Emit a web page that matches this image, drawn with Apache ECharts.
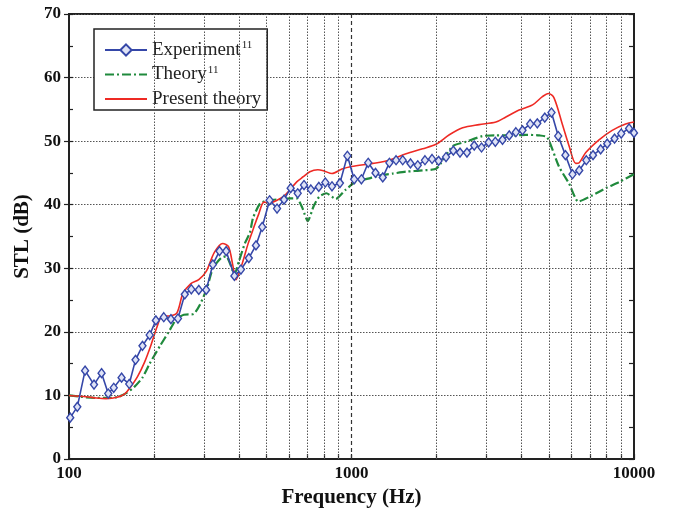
<!DOCTYPE html>
<html><head><meta charset="utf-8">
<script src="https://cdn.jsdelivr.net/npm/echarts@6/dist/echarts.min.js"></script>
<style>html,body{margin:0;padding:0;background:#fff}#c{width:673px;height:513px}</style>
</head><body><div id="c"></div>
<script>
// ---- data ----
const expFreq = [101, 107, 114, 122.6, 130.4, 137.7, 144, 153.5, 163.4, 172, 182, 193, 203, 216.5, 229.5, 243, 257, 271, 288, 306, 323, 341, 360, 385, 406, 433, 459, 483, 513, 545, 577, 609, 645, 679, 718, 766, 808, 853, 910, 967, 1022, 1084, 1146, 1216, 1290, 1362, 1438, 1518, 1617, 1716, 1820, 1928, 2034, 2161, 2293, 2421, 2563, 2719, 2886, 3058, 3229, 3424, 3617, 3818, 4030, 4290, 4547, 4832, 5104, 5392, 5718, 6058, 6399, 6780, 7160, 7618, 8039, 8533, 9011, 9606, 10000];
const expSTL = [6.5, 8.2, 13.9, 11.7, 13.5, 10.3, 11.2, 12.8, 11.8, 15.6, 17.8, 19.5, 21.8, 22.3, 22.0, 22.1, 25.9, 26.7, 26.6, 26.6, 30.6, 32.7, 32.7, 28.8, 29.8, 31.6, 33.6, 36.5, 40.7, 39.4, 40.8, 42.6, 41.8, 43.1, 42.4, 42.8, 43.5, 42.9, 43.4, 47.7, 44.0, 44.0, 46.6, 45.0, 44.3, 46.6, 47.0, 47.0, 46.5, 46.2, 47.0, 47.2, 46.9, 47.5, 48.5, 48.2, 48.2, 49.3, 49.0, 49.8, 49.9, 50.2, 50.9, 51.4, 51.7, 52.7, 52.8, 53.7, 54.5, 50.8, 47.8, 44.8, 45.4, 47.0, 47.8, 48.7, 49.6, 50.4, 51.2, 52.0, 51.3];

const theoryFreq = [100, 115, 125, 140, 150, 160, 170, 182, 193, 210, 224, 240, 255, 276, 291, 308, 323, 345, 360, 375, 385, 400, 420, 437, 448, 475, 505, 545, 604, 640, 670, 700, 735, 770, 815, 880, 950, 1035, 1145, 1256, 1400, 1560, 1786, 2000, 2280, 2540, 2910, 3245, 3715, 4140, 4620, 4930, 5425, 5895, 6350, 7140, 7940, 8880, 10000];
const theorySTL = [10.0, 9.7, 9.6, 9.6, 9.8, 10.4, 11.3, 12.8, 15.0, 17.8, 19.8, 22.0, 22.7, 22.8, 24.3, 26.9, 30.0, 31.6, 31.9, 30.3, 29.0, 31.2, 34.0, 35.6, 37.9, 40.2, 40.7, 40.8, 41.0, 41.0, 39.5, 37.4, 39.8, 41.3, 41.8, 40.9, 42.3, 43.6, 44.1, 44.6, 44.9, 45.2, 45.4, 45.7, 49.2, 49.9, 50.8, 50.9, 50.9, 51.0, 50.9, 50.6, 46.0, 43.3, 40.5, 41.5, 42.6, 43.6, 44.8];

const presentFreq = [100, 115, 125, 135, 148, 158, 165, 175, 185, 195, 205, 214, 227, 241, 253, 270, 288, 306, 327, 350, 367, 380, 390, 412, 430, 450, 470, 490, 513, 545, 575, 604, 640, 675, 712, 760, 800, 853, 925, 1000, 1190, 1362, 1560, 1786, 1990, 2220, 2475, 2830, 3245, 3520, 3920, 4375, 4740, 4980, 5210, 5590, 5895, 6220, 6400, 6750, 7520, 8370, 9340, 10000];
const presentSTL = [10.0, 9.8, 9.6, 9.5, 9.7, 10.3, 11.3, 13.0, 15.2, 17.9, 20.8, 22.5, 22.5, 23.0, 26.0, 27.6, 28.2, 29.5, 32.5, 33.9, 33.4, 30.5, 28.2, 31.0, 33.8, 36.3, 38.6, 40.4, 40.3, 40.7, 41.3, 42.3, 43.6, 44.4, 45.2, 45.5, 45.3, 44.9, 45.6, 46.0, 46.5, 47.0, 48.0, 48.8, 49.5, 51.0, 52.1, 52.6, 53.0, 53.8, 54.9, 55.7, 57.0, 57.5, 56.8, 52.5, 49.2, 46.5, 46.6, 48.2, 50.2, 51.7, 52.7, 53.0];

const xLabelTicks = [100, 1000, 10000];
const xAllTicks = [100, 200, 300, 400, 500, 600, 700, 800, 900, 1000, 2000, 3000, 4000, 5000, 6000, 7000, 8000, 9000, 10000];
const xGridLines = [200, 300, 400, 500, 600, 700, 800, 900, 2000, 3000, 4000, 5000, 6000, 7000, 8000, 9000];
const xDashedLine = [1000];

const seriesNames = ['Experiment', 'Theory', 'Present theory'];
const legendLabels = {
  'Experiment': '{t|Experiment}{s|11}',
  'Theory': '{t|Theory}{s|11}',
  'Present theory': '{t|Present theory}'
};

function pairs(f, v) { return f.map((x, i) => [x, v[i]]); }

const FONT = '"Liberation Serif", "Times New Roman", serif';
const chart = echarts.init(document.getElementById('c'), null, {renderer: 'canvas'});

const option = {
  animation: false,
  backgroundColor: '#fff',
  grid: {left: 69, right: 39, top: 14, bottom: 54, show: true, borderColor: '#222', borderWidth: 2, backgroundColor: 'transparent'},
  legend: {
    data: [
      {name: 'Experiment'},
      {name: 'Theory', itemStyle: {opacity: 0}},
      {name: 'Present theory', itemStyle: {opacity: 0}}
    ],
    orient: 'vertical',
    left: 94, top: 29,
    padding: [11, 6, 1, 10],
    itemGap: 4.5,
    itemWidth: 42, itemHeight: 14,
    backgroundColor: '#fff',
    borderColor: '#222', borderWidth: 1.5,
    selectedMode: false,
    formatter: n => legendLabels[n],
    textStyle: {
      fontFamily: FONT, fontSize: 19, color: '#222', lineHeight: 20,
      rich: {
        t: {fontFamily: FONT, fontSize: 19, color: '#222', lineHeight: 20},
        s: {fontFamily: FONT, fontSize: 11, color: '#222', verticalAlign: 'top', lineHeight: 20, padding: [0, 0, 9, 1]}
      }
    }
  },
  xAxis: [{
    type: 'log', logBase: 10, min: 100, max: 10000,
    name: 'Frequency (Hz)', nameLocation: 'middle', nameGap: 25,
    nameTextStyle: {fontFamily: FONT, fontSize: 21, fontWeight: 'bold', color: '#111'},
    axisLine: {show: true, lineStyle: {color: '#222', width: 2}},
    axisTick: {show: true, inside: true, length: 5, customValues: xAllTicks, lineStyle: {color: '#222', width: 1.2}},
    axisLabel: {customValues: xLabelTicks, margin: 6, fontFamily: FONT, fontSize: 17, fontWeight: 'bold', color: '#111', formatter: v => String(Math.round(v))},
    splitLine: {show: false},
    minorTick: {show: false}
  }],
  yAxis: [{
    type: 'value', min: 0, max: 70, interval: 10, position: 'left',
    name: 'STL (dB)', nameLocation: 'middle', nameGap: 36, nameRotate: 90,
    nameTextStyle: {fontFamily: FONT, fontSize: 21, fontWeight: 'bold', color: '#111'},
    axisLine: {show: true, lineStyle: {color: '#222', width: 2}},
    axisTick: {show: true, inside: false, length: 5, lineStyle: {color: '#222', width: 1.2}},
    axisLabel: {margin: 8, fontFamily: FONT, fontSize: 17, fontWeight: 'bold', color: '#111'},
    splitLine: {show: true, lineStyle: {color: '#555', width: 1, type: [1.5, 1.5]}}
  }, {
    type: 'value', min: 0, max: 70, interval: 5, position: 'left',
    axisLine: {show: false},
    axisTick: {show: true, inside: true, length: 4, lineStyle: {color: '#222', width: 1.2}},
    axisLabel: {show: false}, splitLine: {show: false}
  }, {
    type: 'value', min: 0, max: 70, interval: 5, position: 'right',
    axisLine: {show: true, lineStyle: {color: '#222', width: 2}},
    axisTick: {show: true, inside: true, length: 5, lineStyle: {color: '#222', width: 1.2}},
    axisLabel: {show: false}, splitLine: {show: false}
  }],
  series: [{
    name: 'Experiment', type: 'line', z: 5,
    data: pairs(expFreq, expSTL),
    symbol: 'diamond', symbolSize: [7, 9], showAllSymbol: true,
    lineStyle: {color: '#3547a8', width: 1.6},
    itemStyle: {color: '#dfe3f6', borderColor: '#3547a8', borderWidth: 1.4},
    emphasis: {disabled: true},
    markLine: {
      silent: true, symbol: 'none', label: {show: false}, animation: false,
      lineStyle: {color: '#555', width: 1, type: [1.5, 1.5]},
      data: xGridLines.map(v => ({xAxis: v})).concat(xDashedLine.map(v => ({xAxis: v, lineStyle: {color: '#333', width: 1.2, type: [4, 3]}})))
    }
  }, {
    name: 'Theory', type: 'line', z: 3,
    data: pairs(theoryFreq, theorySTL),
    symbol: 'none', smooth: 0.2,
    lineStyle: {color: '#1f8a3c', width: 2.2, type: [9, 3, 2, 3]},
    itemStyle: {color: '#1f8a3c'},
    emphasis: {disabled: true}
  }, {
    name: 'Present theory', type: 'line', z: 4,
    data: pairs(presentFreq, presentSTL),
    symbol: 'none', smooth: 0.3,
    lineStyle: {color: '#ee2a24', width: 1.6},
    itemStyle: {color: '#ee2a24'},
    emphasis: {disabled: true}
  }]
};
chart.setOption(option);
</script>
</body></html>
